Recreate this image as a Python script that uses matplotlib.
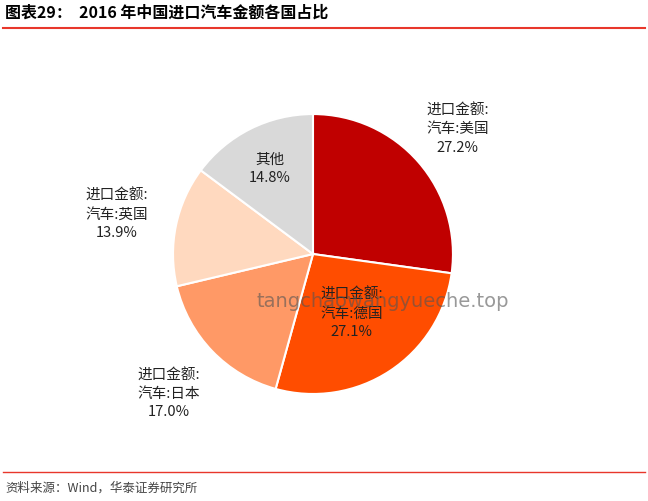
import matplotlib
matplotlib.use("Agg")
import matplotlib.pyplot as plt
import numpy as np

plt.rcParams['font.family'] = ['Noto Sans CJK SC', 'DejaVu Sans']

labels = ["进口金额:\n汽车:美国", "进口金额:\n汽车:德国", "进口金额:\n汽车:日本", "进口金额:\n汽车:英国", "其他"]
values = [27.2, 27.1, 17.0, 13.9, 14.8]
colors = ["#C00000", "#FF4D00", "#FF9966", "#FFD9BF", "#D9D9D9"]
label_r = [1.37, 0.5, 1.43, 1.43, 0.69]

fig = plt.figure(figsize=(6.48, 5.02), dpi=100)
ax = fig.add_axes([0.483 - 0.216, 0.492 - 0.279, 0.432, 0.558])
wedges, _ = ax.pie(values, colors=colors, startangle=90, counterclock=False,
                   wedgeprops=dict(edgecolor="white", linewidth=1.5))
ax.set_xlim(-1, 1)
ax.set_ylim(-1, 1)
ax.set_aspect("equal")
for w, lab, v, r in zip(wedges, labels, values, label_r):
    ang = np.deg2rad((w.theta1 + w.theta2) / 2)
    ax.text(r * np.cos(ang), r * np.sin(ang), f"{lab}\n{v:.1f}%", ha="center", va="center",
            fontsize=10.5, color="#222222", linespacing=1.4)

fig.text(0.008, 0.975, "图表29：  2016 年中国进口汽车金额各国占比", fontsize=11.5, fontweight="bold",
         va="center", ha="left")
fig.add_artist(plt.Line2D([0.005, 0.995], [0.943, 0.943], color="#E8372B", lw=1.5))
fig.add_artist(plt.Line2D([0.005, 0.995], [0.058, 0.058], color="#E8372B", lw=1))
fig.text(0.008, 0.028, "资料来源：Wind，华泰证券研究所", fontsize=9, color="#444444", va="center")
fig.text(0.59, 0.4, "tangchaowangyueche.top", fontsize=14, color="#555555", alpha=0.6,
         ha="center", va="center", family="DejaVu Sans")
fig.savefig("out.png", dpi=100)
